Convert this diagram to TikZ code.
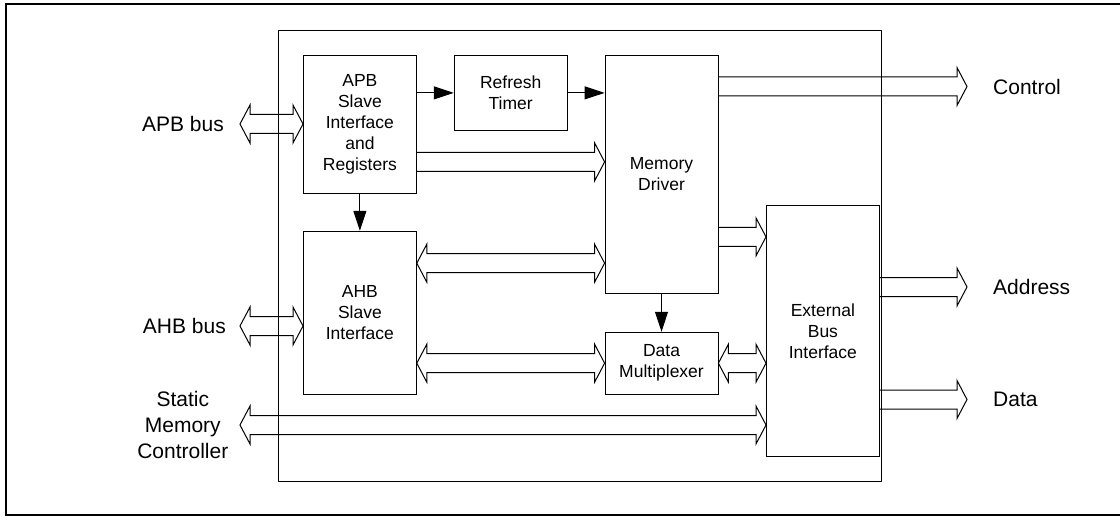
\documentclass[tikz,border=0pt]{standalone}
\usepackage{fontspec}
\setmainfont{Liberation Sans}
\usetikzlibrary{arrows.meta,positioning,calc}

% wide hollow bus arrows, drawn left to right
\newcommand{\busarrow}[2]{\draw[busline] ($(#1)+(0,-9.5)$) -- ($(#2)+(-10,-9.5)$) -- ($(#2)+(-10,-19)$) -- (#2) -- ($(#2)+(-10,19)$) -- ($(#2)+(-10,9.5)$) -- ($(#1)+(0,9.5)$);}
\newcommand{\dbusarrow}[2]{\draw[busline] ($(#1)+(10,-9.5)$) -- ($(#2)+(-10,-9.5)$) -- ($(#2)+(-10,-19)$) -- (#2) -- ($(#2)+(-10,19)$) -- ($(#2)+(-10,9.5)$) -- ($(#1)+(10,9.5)$) -- ($(#1)+(10,19)$) -- (#1) -- ($(#1)+(10,-19)$) -- cycle;}

\begin{document}
\begin{tikzpicture}[x=1pt,y=-1pt,>={Triangle[length=20pt,width=13pt]}]

  \tikzstyle{block}=[rectangle,draw,line width=0.8pt,minimum width=113pt,
                     align=center,inner sep=0pt,font=\fontsize{17.5}{21}\selectfont]
  \tikzstyle{extlabel}=[inner sep=0pt,align=center,font=\fontsize{21}{26}\selectfont]
  \tikzstyle{busline}=[line width=1pt,line join=miter]
  \tikzstyle{sig}=[->,line width=1pt]

  \useasboundingbox (0,0) rectangle (1120,516);
  \draw[line width=2pt] (1120,4) -- (6,4) -- (6,515) -- (1120,515);

  % controller
  \draw[line width=0.8pt] (278,30) rectangle (881,481);

  \node [block,minimum height=138pt,anchor=north west] (apb) at (303,55) {APB\\Slave\\Interface\\and\\Registers};
  \node [block,minimum height=75pt,right=37pt of apb.north east,anchor=north west] (timer) {Refresh\\Timer};
  \node [block,minimum height=238pt,right=37pt of timer.north east,anchor=north west] (md) {Memory\\Driver};
  \node [block,minimum height=163pt,below=37pt of apb] (ahb) {AHB\\Slave\\Interface};
  \node [block,minimum height=62pt,below=38pt of md] (dm) {Data\\Multiplexer};
  \node [block,minimum height=251pt,anchor=north west] (ebi) at (766,205) {External\\Bus\\Interface};

  % free ends
  \coordinate (apbtip) at (240,124);
  \coordinate (ahbtip) at (240,326);
  \coordinate (smctip) at (240,425);
  \coordinate (ctltip) at (967,86.5);
  \coordinate (adrtip) at (967,287);
  \coordinate (dattip) at (967,399.5);
  \coordinate (a2m) at ([yshift=-37.5pt]apb.east);
  \coordinate (h2m) at ([yshift=49.5pt]ahb.east);
  \coordinate (m2e) at ([yshift=-62.5pt]md.east);

  \node [extlabel,left=16pt of apbtip]   (apbbus) {APB bus};
  \node [extlabel,left=14pt of ahbtip]   (ahbbus) {AHB bus};
  \node [extlabel,left=11.5pt of smctip] (smc)    {Static\\Memory\\Controller};
  \node [extlabel,right=26pt of ctltip]  (ctl)    {Control};
  \node [extlabel,right=26pt of adrtip]  (adr)    {Address};
  \node [extlabel,right=26pt of dattip]  (dat)    {Data};

  % signals
  \draw[sig] (apb.east |- timer.west) -- (timer.west);
  \draw[sig] (timer.east) -- (timer.east -| md.west);
  \draw[sig] (apb.south) -- (ahb.north);
  \draw[sig] (md.south) -- (dm.north);

  % buses
  \dbusarrow{apbtip}{apbtip -| apb.west}
  \dbusarrow{ahbtip}{ahbtip -| ahb.west}
  \dbusarrow{smctip}{smctip -| ebi.west}
  \busarrow{a2m}{a2m -| md.west}
  \dbusarrow{h2m}{h2m -| md.west}
  \dbusarrow{ahb.east |- dm.west}{dm.west}
  \dbusarrow{dm.east}{dm.east -| ebi.west}
  \busarrow{m2e}{m2e -| ebi.west}
  \busarrow{ctltip -| md.east}{ctltip}
  \busarrow{adrtip -| ebi.east}{adrtip}
  \busarrow{dattip -| ebi.east}{dattip}
\end{tikzpicture}
\end{document}
